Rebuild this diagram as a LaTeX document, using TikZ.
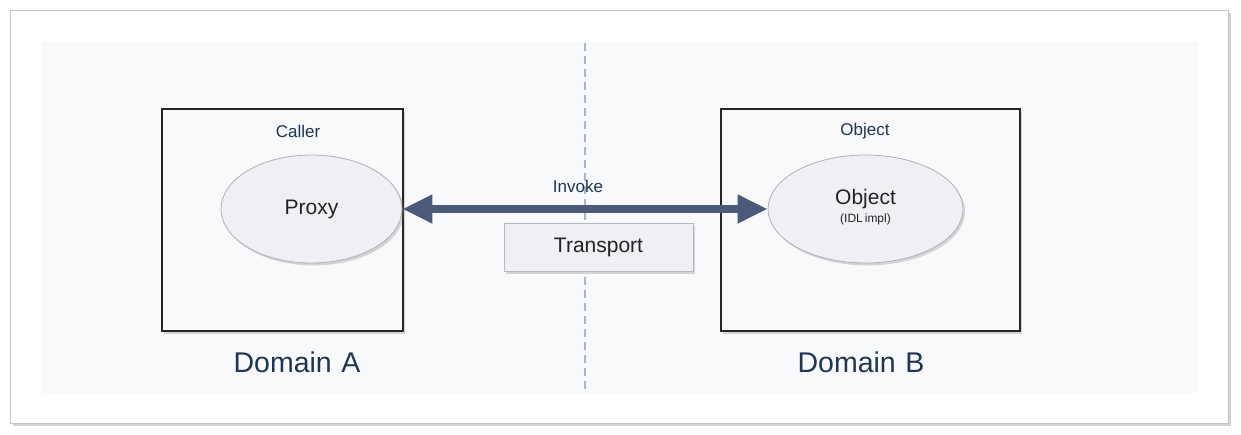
\documentclass[tikz,border=0pt]{standalone}
\usepackage{fontspec}
\setmainfont{Liberation Sans}
\usetikzlibrary{shapes.geometric,shadows,arrows.meta}
\definecolor{navy}{HTML}{1F3550}
\definecolor{inkgray}{HTML}{222222}
\definecolor{areafill}{HTML}{F8F9FB}
\definecolor{ellfill}{HTML}{EEF0F4}
\definecolor{ellline}{HTML}{AEB0B4}
\definecolor{arrowcol}{HTML}{4A5A78}
\definecolor{dashcol}{HTML}{A9B5CC}
\definecolor{framecol}{HTML}{C4C4C4}
\tikzset{
  x=1pt, y=-1pt,
  myshadow/.style={drop shadow={opacity=0.3, shadow xshift=2pt, shadow yshift=-2.5pt}},
  domainbox/.style={draw=black!85, line width=1.3pt, fill=areafill, myshadow, minimum width=241pt, minimum height=222pt, inner sep=0pt},
  ellnode/.style={ellipse, draw=ellline, line width=0.8pt, fill=ellfill, myshadow, minimum width=181pt, minimum height=108pt, inner sep=0pt, font=\fontsize{21}{24}\selectfont, text=inkgray},
  lbl/.style={text=navy, inner sep=0pt},
  transbox/.style={draw=ellline!90, line width=0.8pt, fill=ellfill, myshadow, minimum width=189pt, minimum height=48pt, inner sep=0pt, font=\fontsize{21}{24}\selectfont, text=inkgray},
  bigarrow/.style={draw=arrowcol, line width=7.5pt, {Triangle[length=30pt,width=27pt]}-{Triangle[length=30pt,width=27pt]}},
  divider/.style={draw=dashcol, line width=1.6pt, dash pattern=on 8pt off 5pt}
}
\begin{document}
\begin{tikzpicture}
\useasboundingbox (0,0) rectangle (1241,434);
% outer frame
\node[draw=framecol, line width=1pt, fill=white, drop shadow={opacity=0.35, shadow xshift=2.5pt, shadow yshift=-2.5pt}, minimum width=1218pt, minimum height=413pt, inner sep=0pt] (frame) at (619,217) {};
% inner area
\node[fill=areafill, minimum width=1157pt, minimum height=351pt, inner sep=0pt] (area) at (619.5,217.5) {};
% divider
\coordinate (dtop) at (585,43);
\coordinate (dbot) at (585,393);
\draw[divider] (dtop) -- (dbot);
% domain boxes
\node[domainbox] (boxA) at (282.5,220) {};
\node[domainbox, minimum width=299pt] (boxB) at (870.5,220) {};
% labels
\node[lbl, font=\fontsize{17}{20}\selectfont] (caller) at (298,131) {Caller};
\node[lbl, font=\fontsize{17}{20}\selectfont] (objlbl) at (865,131) {Object};
\node[lbl, font=\fontsize{28.5}{32}\selectfont] (domA) at (297,362) {Domain\,\,A};
\node[lbl, font=\fontsize{28.5}{32}\selectfont] (domB) at (861,362) {Domain\,\,B};
% ellipses
\node[ellnode] (proxy) at (311.5,209) {\raisebox{-2pt}{Proxy}};
\node[ellnode, minimum width=195pt] (object) at (865.5,209) {\begin{tabular}{@{}c@{}}Object\\[-6pt]{\fontsize{12}{14}\selectfont (IDL\,impl)}\end{tabular}};
% transport
\node[transbox] (transport) at (598.5,247) {Transport};
% invoke
\node[lbl, font=\fontsize{17}{20}\selectfont] (invoke) at (578,186) {Invoke};
% arrow
\draw[bigarrow] (proxy.east) -- (object.west);
\end{tikzpicture}
\end{document}
